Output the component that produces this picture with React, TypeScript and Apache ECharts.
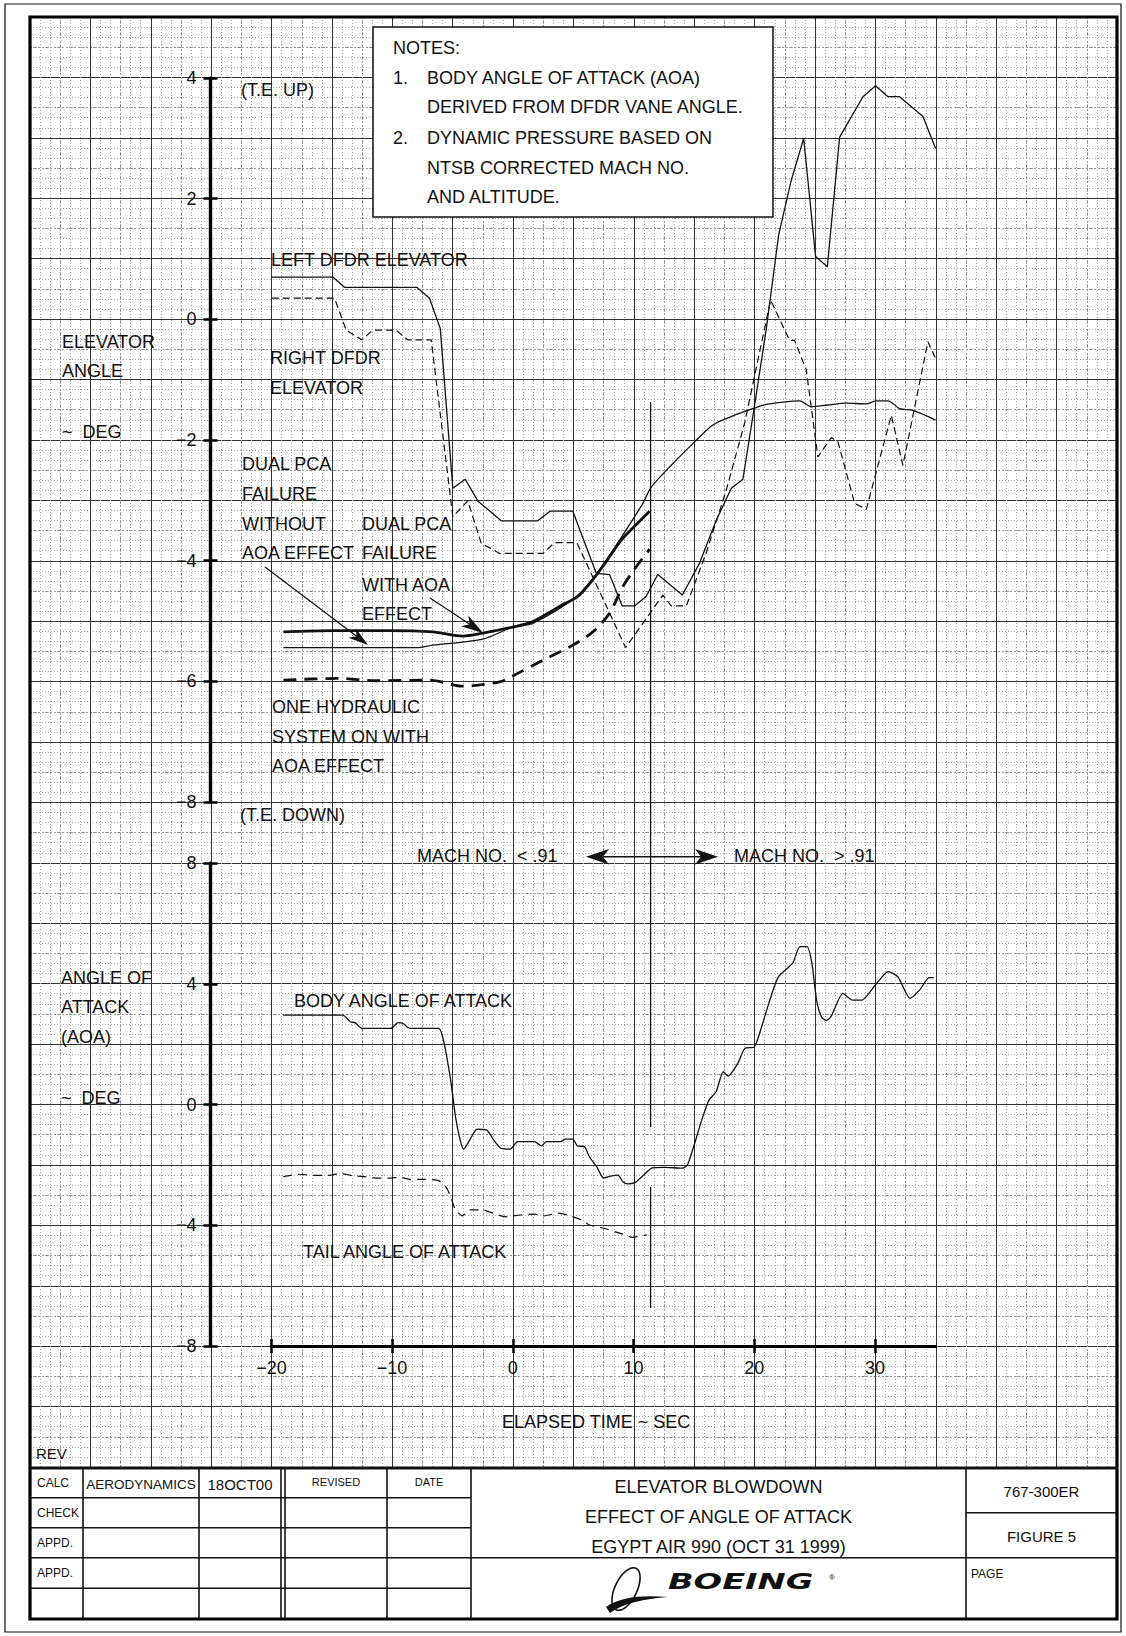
import React, { useEffect, useRef } from "react";
import * as echarts from "echarts";

const FONT = "'Liberation Sans', Arial, sans-serif";
const INK = "#111";

// ---------------- DATA (elapsed time s, angle deg) ----------------
const leftDfdrElevator: number[][] = [
  [-19.93, 0.7], [-14.87, 0.7], [-13.9, 0.53], [-7.91, 0.53], [-6.86, 0.35], [-5.97, -0.15],
  [-4.93, -2.8], [-3.9, -2.65], [-2.86, -3.01], [-0.92, -3.34], [2.11, -3.34], [3.12, -3.18],
  [5.01, -3.18], [6.95, -4.21], [8.05, -4.23], [9.1, -4.75], [10.12, -4.75], [11.09, -4.59],
  [12.05, -4.23], [14.08, -4.57], [15.51, -4.04], [16.89, -3.33], [18.14, -2.8], [19.1, -2.65],
  [20.07, -1.42], [21.04, -0.15], [22.06, 1.4], [23.11, 2.31], [24.13, 3.0], [25.12, 1.04],
  [26.09, 0.87], [27.11, 3.02], [29.04, 3.69], [30.09, 3.87], [31.11, 3.69], [32.08, 3.69],
  [34.01, 3.36], [35.06, 2.83],
];

const rightDfdrElevator: number[][] = [
  [-19.93, 0.35], [-14.73, 0.35], [-13.76, -0.18], [-12.47, -0.34], [-11.56, -0.18], [-9.62, -0.18],
  [-8.66, -0.34], [-6.72, -0.34], [-4.93, -3.27], [-3.69, -3.01], [-2.58, -3.71], [-1.06, -3.88],
  [2.53, -3.88], [3.5, -3.7], [5.34, -3.7], [9.38, -5.44], [12.47, -4.57], [13.16, -4.75],
  [14.41, -4.75], [16.06, -3.87], [17.72, -2.83], [19.24, -1.72], [21.39, 0.32], [22.97, -0.35],
  [23.38, -0.35], [24.35, -0.84], [25.31, -2.28], [26.42, -1.96], [26.97, -2.03], [28.35, -3.05],
  [29.32, -3.15], [31.39, -1.59], [32.35, -2.42], [34.42, -0.37], [35.06, -0.65],
];

const dualPcaWithoutAoa: number[][] = [
  [-18.96, -5.44], [-12.1, -5.44], [-7.69, -5.44], [-6.59, -5.4], [-2.44, -5.3], [0.04, -5.1],
  [1.7, -5.04], [5.29, -4.6], [7.22, -4.16], [8.88, -3.66], [10.81, -3.05], [11.51, -2.78],
  [13.3, -2.39], [14.95, -2.06], [16.61, -1.75], [18.27, -1.6], [19.93, -1.48], [21.04, -1.41],
  [23.79, -1.35], [24.76, -1.45], [26.14, -1.42], [27.66, -1.39], [29.32, -1.4], [30.15, -1.35],
  [31.11, -1.35], [32.08, -1.48], [33.18, -1.51], [35.06, -1.67],
];

const dualPcaWithAoa: number[][] = [
  [-18.96, -5.18], [-14.87, -5.16], [-10.45, -5.16], [-6.59, -5.18], [-4.1, -5.25], [-2.44, -5.2],
  [0.04, -5.1], [1.7, -5.01], [3.91, -4.76], [5.43, -4.59], [6.4, -4.38], [7.5, -4.09],
  [9.02, -3.66], [9.98, -3.46], [11.37, -3.18],
];

const oneHydraulicWithAoa: number[][] = [
  [-18.96, -5.98], [-14.32, -5.95], [-11.28, -5.99], [-6.86, -5.98], [-4.1, -6.08], [-1.06, -6.01],
  [0.04, -5.91], [2.53, -5.65], [5.01, -5.4], [6.67, -5.18], [8.05, -4.87], [9.15, -4.43],
  [10.12, -4.14], [11.37, -3.81],
];

const bodyAngleOfAttack: number[][] = [
  [-18.98, 2.96], [-14.03, 2.96], [-13.43, 2.74], [-13.03, 2.71], [-12.44, 2.52], [-10.07, 2.52],
  [-9.47, 2.71], [-9.07, 2.69], [-8.48, 2.52], [-6.1, 2.52], [-5.71, 2.14], [-5.11, 0.81],
  [-4.71, -0.4], [-4.32, -1.18], [-4.04, -1.48], [-3.53, -1.18], [-2.93, -0.82], [-2.14, -0.84],
  [-1.54, -1.18], [-0.95, -1.45], [-0.16, -1.48], [0.44, -1.23], [1.82, -1.23], [2.42, -1.37],
  [2.82, -1.23], [4.0, -1.23], [4.4, -1.15], [5.0, -1.15], [5.39, -1.37], [5.98, -1.4],
  [6.38, -1.73], [6.98, -2.06], [7.57, -2.44], [8.16, -2.37], [8.76, -2.34], [9.15, -2.56],
  [9.55, -2.63], [10.15, -2.59], [10.74, -2.39], [11.53, -2.11], [12.52, -2.08], [14.11, -2.11],
  [14.51, -2.0], [15.1, -1.29], [15.69, -0.51], [16.29, 0.15], [16.88, 0.42], [17.47, 1.09],
  [17.87, 0.94], [18.67, 1.36], [19.26, 1.86], [20.05, 1.91], [20.65, 2.58], [21.24, 3.35],
  [22.03, 4.23], [23.22, 4.68], [23.82, 5.23], [24.41, 5.23], [24.81, 4.68], [25.2, 3.46],
  [25.6, 2.91], [26.0, 2.78], [26.39, 2.91], [27.38, 3.68], [28.18, 3.46], [28.96, 3.46],
  [30.16, 4.01], [31.14, 4.4], [31.94, 4.23], [32.93, 3.52], [33.73, 3.79], [34.52, 4.2],
  [34.91, 4.2],
];

const tailAngleOfAttack: number[][] = [
  [-18.98, -2.39], [-17.6, -2.31], [-16.4, -2.35], [-15.22, -2.35], [-14.23, -2.28], [-13.24, -2.36],
  [-12.25, -2.39], [-11.05, -2.44], [-10.07, -2.44], [-9.27, -2.41], [-8.48, -2.48], [-7.29, -2.48],
  [-6.1, -2.52], [-5.51, -2.72], [-5.11, -3.05], [-4.71, -3.49], [-4.12, -3.69], [-3.53, -3.49],
  [-2.54, -3.49], [-1.74, -3.58], [-0.56, -3.72], [0.64, -3.66], [1.82, -3.63], [2.62, -3.69],
  [3.8, -3.6], [4.8, -3.69], [5.78, -3.83], [6.38, -3.99], [7.57, -4.1], [8.96, -4.27],
  [9.95, -4.4], [11.14, -4.32],
];

const timeTicks = [-20, -10, 0, 10, 20, 30];
const elevatorRange = [-8, 4];
const aoaRange = [-8, 8];
const timeRange = [-20, 35];

// vertical marker at Mach .91 crossing
const markerTime = 11.45;
const markerElevatorTop = -1.37;
const markerAoaGapTop = -0.75;
const markerAoaGapBottom = -2.73;
const markerAoaBottom = -6.74;

const notesLines = [
  "BODY ANGLE OF ATTACK (AOA)",
  "DERIVED FROM DFDR VANE ANGLE.",
  "DYNAMIC PRESSURE BASED ON",
  "NTSB CORRECTED MACH NO.",
  "AND ALTITUDE.",
];
const titleLines = ["ELEVATOR BLOWDOWN", "EFFECT OF ANGLE OF ATTACK", "EGYPT AIR 990 (OCT 31 1999)"];

echarts.graphic.registerShape(
  "boeingSwoosh",
  echarts.graphic.extendPath("M0 40 C 14 30, 36 28, 62 30 C 38 32, 18 36, 4 46 Z", {})
);

// ---------------- helpers ----------------
function txt(text: string, x: number, y: number, size = 18, align = "left", extra: any = {}) {
  return {
    type: "text",
    x,
    y,
    z: 30,
    silent: true,
    style: {
      text,
      fontSize: size,
      fontFamily: FONT,
      fill: INK,
      textAlign: align,
      align,
      textVerticalAlign: "middle",
      verticalAlign: "middle",
      ...extra,
    },
  };
}
function ln(x1: number, y1: number, x2: number, y2: number, w = 1.5, dash?: number[]) {
  return {
    type: "line",
    z: 25,
    silent: true,
    shape: { x1, y1, x2, y2 },
    style: { stroke: INK, lineWidth: w, lineDash: dash },
  };
}
function arrow(x1: number, y1: number, x2: number, y2: number, len = 20, half = 6) {
  const dx = x2 - x1;
  const dy = y2 - y1;
  const L = Math.sqrt(dx * dx + dy * dy);
  const ux = dx / L;
  const uy = dy / L;
  const nx = -uy;
  const ny = ux;
  const bx = x2 - ux * len;
  const by = y2 - uy * len;
  const notchX = x2 - ux * len * 0.72;
  const notchY = y2 - uy * len * 0.72;
  return [
    ln(x1, y1, notchX, notchY, 1.2),
    {
      type: "polygon",
      z: 26,
      silent: true,
      shape: {
        points: [
          [x2, y2],
          [bx + nx * half, by + ny * half],
          [notchX, notchY],
          [bx - nx * half, by - ny * half],
        ],
      },
      style: { fill: INK },
    },
  ];
}

function axisPair(kind: "x" | "y", gridIndex: number, min: number, max: number, interval: number, position: string, custom?: number[]) {
  const common: any = {
    type: "value",
    gridIndex,
    min,
    max,
    interval,
    position,
    z: 8,
    splitLine: { show: false },
    axisLine: { show: true, onZero: false, lineStyle: { color: "#000", width: 3.2 } },
  };
  const tickBase: any = { show: true, length: 7, lineStyle: { color: "#000", width: 2.5 } };
  if (custom) tickBase.customValues = custom;
  const labelBase: any = {
    show: true,
    fontSize: 18,
    fontFamily: FONT,
    color: INK,
    margin: kind === "y" ? 14 : 13,
    formatter: (v: number) => (v < 0 ? "\u2212" + String(-v) : String(v)),
  };
  if (kind === "y") labelBase.padding = [0, 0, 4, 0];
  if (custom) labelBase.customValues = custom;
  return [
    { ...common, axisTick: { ...tickBase, inside: false }, axisLabel: labelBase },
    { ...common, axisTick: { ...tickBase, inside: true }, axisLabel: { show: false } },
  ];
}

function hiddenAxis(gridIndex: number, min: number, max: number) {
  return {
    type: "value",
    gridIndex,
    min,
    max,
    show: false,
    splitLine: { show: false },
  };
}

function bgAxis(max: number, interval: number, major: boolean) {
  return {
    type: "value",
    gridIndex: 0,
    min: 0,
    max,
    interval,
    z: major ? 2 : 1,
    axisLine: { show: false },
    axisTick: { show: false },
    axisLabel: { show: false },
    splitLine: {
      show: true,
      lineStyle: major ? { color: "#333", width: 1 } : { color: "#8c8c8c", width: 1, type: [2, 2] },
    },
    minorTick: { show: false, splitNumber: 6 },
    minorSplitLine: { show: major, lineStyle: { color: "#a8a8a8", width: 1, type: [1, 2] } },
  };
}

function series(name: string, data: number[][], xi: number, yi: number, width: number, dash: any, smooth: number | boolean) {
  return {
    type: "line",
    name,
    data,
    xAxisIndex: xi,
    yAxisIndex: yi,
    showSymbol: false,
    symbol: "none",
    smooth,
    silent: true,
    z: 5,
    lineStyle: { color: INK, width, type: dash, cap: "butt" },
  };
}

function buildGraphics(marker: number[][][]) {
  const g: any[] = [];
  // outer border & frame
  g.push({ type: "rect", z: 24, silent: true, shape: { x: 5, y: 4, width: 1116, height: 1628 }, style: { fill: "none", stroke: INK, lineWidth: 1.2 } });
  g.push({ type: "rect", z: 24, silent: true, shape: { x: 30, y: 17, width: 1087, height: 1602 }, style: { fill: "none", stroke: "#000", lineWidth: 3.2 } });
  // title block
  g.push({ type: "rect", z: 22, silent: true, shape: { x: 31.5, y: 1469, width: 1084, height: 148.5 }, style: { fill: "#fff" } });
  g.push(ln(30, 1468, 1117, 1468, 3.2));
  [1497.7, 1527.7, 1588.3].forEach((y) => g.push(ln(30, y, 471, y, 1.6)));
  g.push(ln(30, 1557.7, 1117, 1557.7, 1.6));
  g.push(ln(966, 1512.7, 1117, 1512.7, 1.6));
  [83, 199, 281, 285, 387, 471, 966].forEach((x) => g.push(ln(x, 1468, x, 1619, 1.6)));
  g.push(txt("CALC", 37, 1483, 12));
  g.push(txt("CHECK", 37, 1513, 12));
  g.push(txt("APPD.", 37, 1543, 12));
  g.push(txt("APPD.", 37, 1573, 12));
  g.push(txt("AERODYNAMICS", 141, 1484, 13.5, "center"));
  g.push(txt("18OCT00", 240, 1484, 15, "center"));
  g.push(txt("REVISED", 336, 1482, 11, "center"));
  g.push(txt("DATE", 429, 1482, 11, "center"));
  titleLines.forEach((t, i) => g.push(txt(t, 718.5, 1487 + i * 30, 18, "center")));
  g.push(txt("767-300ER", 1041.5, 1491, 15, "center"));
  g.push(txt("FIGURE 5", 1041.5, 1536, 15, "center"));
  g.push(txt("PAGE", 971, 1574, 12));
  // Boeing logo
  g.push({ type: "ellipse", z: 30, silent: true, x: 626, y: 1589, rotation: -0.45, shape: { cx: 0, cy: 0, rx: 11, ry: 23 }, style: { fill: "none", stroke: INK, lineWidth: 1.6 } });
  g.push({ type: "boeingSwoosh", z: 30, silent: true, x: 606, y: 1567, style: { fill: INK } });
  g.push({
    type: "text", z: 30, silent: true, x: 668, y: 1582, scaleX: 1.6,
    style: { text: "BOEING", fontSize: 21, fontWeight: "bold", fontStyle: "italic", fontFamily: "'DejaVu Sans', sans-serif", fill: INK, textVerticalAlign: "middle", verticalAlign: "middle" },
  });
  g.push(txt("®", 829, 1577, 8));
  g.push(txt("REV", 36, 1453, 15));

  // notes box
  g.push({ type: "rect", z: 28, silent: true, shape: { x: 373, y: 27, width: 400, height: 190 }, style: { fill: "#fff", stroke: INK, lineWidth: 1.5 } });
  g.push(txt("NOTES:", 393, 48));
  g.push(txt("1.", 393, 78));
  g.push(txt("2.", 393, 138));
  notesLines.forEach((t, i) => g.push(txt(t, 427, [78, 107, 138, 168, 197][i])));

  // axis titles and curve labels
  g.push(txt("ELEVATOR", 62, 342));
  g.push(txt("ANGLE", 62, 371));
  g.push(txt("~  DEG", 62, 432));
  g.push(txt("ANGLE OF", 61, 978));
  g.push(txt("ATTACK", 61, 1007));
  g.push(txt("(AOA)", 61, 1037));
  g.push(txt("~  DEG", 61, 1098));
  g.push(txt("(T.E. UP)", 241, 90));
  g.push(txt("(T.E. DOWN)", 240, 815));
  g.push(txt("LEFT DFDR ELEVATOR", 271, 260));
  g.push(txt("RIGHT DFDR", 270, 358));
  g.push(txt("ELEVATOR", 270, 388));
  g.push(txt("DUAL PCA", 242, 464));
  g.push(txt("FAILURE", 242, 494));
  g.push(txt("WITHOUT", 242, 524));
  g.push(txt("AOA EFFECT", 242, 553));
  g.push(txt("DUAL PCA", 362, 524));
  g.push(txt("FAILURE", 362, 553));
  g.push(txt("WITH AOA", 362, 585));
  g.push(txt("EFFECT", 362, 614));
  g.push(txt("ONE HYDRAULIC", 272, 707));
  g.push(txt("SYSTEM ON WITH", 272, 737));
  g.push(txt("AOA EFFECT", 272, 766));
  g.push(txt("MACH NO.  < .91", 417, 856));
  g.push(txt("MACH NO.  > .91", 734, 856));
  g.push(txt("BODY ANGLE OF ATTACK", 294, 1001));
  g.push(txt("TAIL ANGLE OF ATTACK", 303, 1252));
  g.push(txt("ELAPSED TIME ~ SEC", 502, 1422));

  // annotation arrows
  g.push(...arrow(265, 567, 368, 645, 20, 6));
  g.push(...arrow(430, 598, 483, 633, 22, 6.5));
  // Mach double arrow
  g.push(ln(600, 856.7, 705, 856.7, 1.4));
  g.push({ type: "polygon", z: 26, silent: true, shape: { points: [[586, 856.7], [609, 849], [603, 856.7], [609, 864.4]] }, style: { fill: INK } });
  g.push({ type: "polygon", z: 26, silent: true, shape: { points: [[718, 856.7], [695, 849], [701, 856.7], [695, 864.4]] }, style: { fill: INK } });

  // vertical marker line (from data coords)
  marker.forEach(([a, b]) => g.push(ln(a[0], a[1], b[0], b[1], 1.3)));
  return g;
}

const option: any = {
  animation: false,
  backgroundColor: "#fff",
  grid: [
    { left: 30, top: 17, width: 1087, height: 1450 },
    { left: 210.5, top: 78, width: 905.5, height: 724 },
    { left: 210.5, top: 863, width: 905.5, height: 483 },
    { left: 271.4, top: 1300, width: 663.9, height: 46 },
  ],
  xAxis: [
    bgAxis(18, 1, true), // 0
    bgAxis(18, 0.5, false), // 1
    hiddenAxis(1, -25, 50), // 2
    hiddenAxis(2, -25, 50), // 3
    ...axisPair("x", 3, timeRange[0], timeRange[1], 10, "bottom", timeTicks), // 4,5
  ],
  yAxis: [
    bgAxis(24, 1, true), // 0
    bgAxis(24, 0.5, false), // 1
    ...axisPair("y", 1, elevatorRange[0], elevatorRange[1], 2, "left"), // 2,3
    ...axisPair("y", 2, aoaRange[0], aoaRange[1], 4, "left"), // 4,5
    hiddenAxis(3, 0, 1), // 6
  ],
  series: [
    series("Left DFDR elevator", leftDfdrElevator, 2, 2, 1.3, "solid", false),
    series("Right DFDR elevator", rightDfdrElevator, 2, 2, 1.2, [7, 4], false),
    series("Dual PCA failure without AOA effect", dualPcaWithoutAoa, 2, 2, 1.3, "solid", 0.3),
    series("Dual PCA failure with AOA effect", dualPcaWithAoa, 2, 2, 2.8, "solid", 0.3),
    series("One hydraulic system on with AOA effect", oneHydraulicWithAoa, 2, 2, 2.8, [13, 8], 0.3),
    series("Body angle of attack", bodyAngleOfAttack, 3, 4, 1.3, "solid", 0.2),
    series("Tail angle of attack", tailAngleOfAttack, 3, 4, 1.2, [9, 6], 0.2),
  ],
};

export default function App() {
  const ref = useRef<HTMLDivElement>(null);
  useEffect(() => {
    document.body.style.margin = "0";
    const el = ref.current!;
    const chart = echarts.init(el, null, { renderer: "svg" });
    chart.setOption(option);
    const pe = (v: number[]) => chart.convertToPixel({ xAxisIndex: 2, yAxisIndex: 2 }, v) as number[];
    const pa = (v: number[]) => chart.convertToPixel({ xAxisIndex: 3, yAxisIndex: 4 }, v) as number[];
    const marker = [
      [pe([markerTime, markerElevatorTop]), pa([markerTime, markerAoaGapTop])],
      [pa([markerTime, markerAoaGapBottom]), pa([markerTime, markerAoaBottom])],
    ];
    chart.setOption({ graphic: { elements: buildGraphics(marker) } });
    return () => chart.dispose();
  }, []);
  return <div ref={ref} style={{ width: 1126, height: 1636 }} />;
}
